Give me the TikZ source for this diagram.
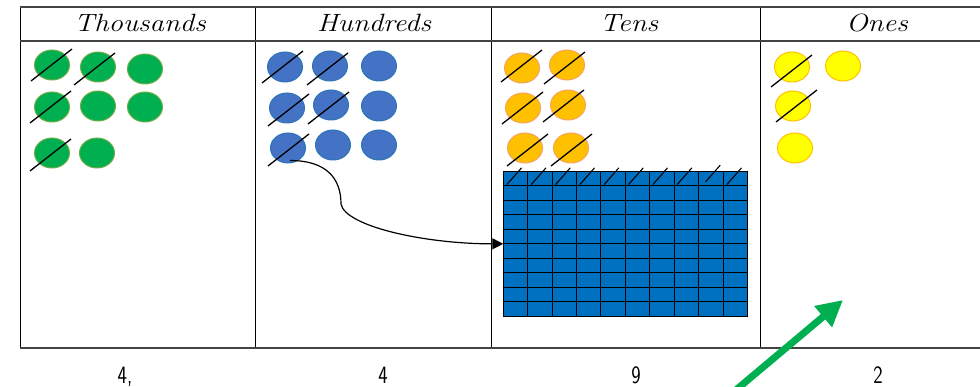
\documentclass[tikz,border=0pt]{standalone}
\usepackage{fontspec}
\usepackage{graphicx}
\usetikzlibrary{shapes.geometric,arrows.meta,calc}

\definecolor{greenfill}{HTML}{00B050}
\definecolor{greenedge}{HTML}{70AD47}
\definecolor{bluefill}{HTML}{4472C4}
\definecolor{blueedge}{HTML}{2E75B6}
\definecolor{orangefill}{HTML}{FFC000}
\definecolor{orangeedge}{HTML}{F4A460}
\definecolor{yellowfill}{HTML}{FFFF00}
\definecolor{yellowedge}{HTML}{FFC000}
\definecolor{hundredfill}{HTML}{0070C0}
\definecolor{rulegray}{HTML}{444444}
\definecolor{arrowgreen}{HTML}{00B050}

\tikzset{
  counter/.style={ellipse, minimum width=35pt, minimum height=30pt,
    inner sep=0pt, line width=1pt},
  thou/.style={counter, fill=greenfill, draw=greenedge},
  hund/.style={counter, fill=bluefill, draw=blueedge},
  tenc/.style={counter, fill=orangefill, draw=orangeedge},
  onec/.style={counter, fill=yellowfill, draw=yellowedge},
  strike/.style={line width=1.3pt, black},
  heavyrule/.style={line width=2pt, rulegray},
  thinrule/.style={line width=1pt, black},
  colhead/.style={font=\itshape\fontsize{25}{25}\selectfont, inner sep=0pt},
  digit/.style={font=\sffamily\fontsize{25}{25}\selectfont, inner sep=0pt,
    anchor=base},
  squareline/.style={line width=0.9pt, black},
}

\begin{document}
\begin{tikzpicture}[x=1pt, y=-1pt]
\useasboundingbox (0,0) rectangle (980,387);
\fill[white] (0,0) rectangle (980,387);
\clip (0,0) rectangle (980,387);

% place value table
\foreach \x in {20,255,491,760}
  \draw[thinrule] (\x,7.5) -- (\x,348);
\draw[heavyrule] (20,7.5) -- (980,7.5);
\draw[heavyrule] (20,41) -- (980,41);
\draw[heavyrule] (20,348) -- (980,348);

% column headings
\node[colhead] (hthou) at (140,23) {\scalebox{1.15}[1]{Thousands}};
\node[colhead] (hhund) at (374,23) {\scalebox{1.15}[1]{Hundreds}};
\node[colhead] (hten)  at (629,23) {\scalebox{1.15}[1]{Tens}};
\node[colhead] (hone)  at (877,23) {\scalebox{1.15}[1]{Ones}};

% thousands counters
\node[thou] (g1) at (52,65)  {};
\node[thou] (g2) at (98,67)  {};
\node[thou] (g3) at (145,69) {};
\node[thou] (g4) at (52,107) {};
\node[thou] (g5) at (98,106) {};
\node[thou] (g6) at (145,107) {};
\node[thou] (g7) at (52,153) {};
\node[thou] (g8) at (97,153) {};

% hundreds counters
\node[hund] (b1) at (285,67)  {};
\node[hund] (b2) at (330,66)  {};
\node[hund] (b3) at (379,66)  {};
\node[hund] (b4) at (287,108) {};
\node[hund] (b5) at (331,105) {};
\node[hund] (b6) at (379,106) {};
\node[hund] (b7) at (288,148) {};
\node[hund] (b8) at (333,145) {};
\node[hund] (b9) at (379,145) {};

% tens counters
\node[tenc] (o1) at (522,68)  {};
\node[tenc] (o2) at (567,65)  {};
\node[tenc] (o3) at (523,108) {};
\node[tenc] (o4) at (568,105) {};
\node[tenc] (o5) at (525,148) {};
\node[tenc] (o6) at (571,148) {};

% ones counters
\node[onec] (y1) at (792,67)  {};
\node[onec] (y2) at (843,66)  {};
\node[onec] (y3) at (793,106) {};
\node[onec] (y4) at (795,148) {};

% crossed-out counters
\foreach \n/\dx/\dy in {g1/-21/16, g2/-24/18, g4/-22/16, g7/-22/18,
    b1/-23/16, b2/-23/19, b4/-19/18, b5/-23/19, b7/-20/18,
    o1/-21/14, o2/-23/19, o3/-21/16, o4/-25/17, o5/-18/18, o6/-20/18,
    y1/-21/20, y3/-17/16}
  \draw[strike] ([shift={(\dx,\dy)}]\n.center) -- ++(41,-32);

% one hundred exchanged for ten tens: a 10 x 10 block
\node[rectangle, fill=hundredfill, draw=black, line width=0.9pt,
      minimum width=243.3pt, minimum height=144.3pt, inner sep=0pt]
  (grid) at (625.35,243.85) {};
\foreach \i in {1,...,9} {
  \draw[squareline] ($(grid.north west)!\i/10!(grid.north east)$)
                 -- ($(grid.south west)!\i/10!(grid.south east)$);
  \draw[squareline] ($(grid.north west)!\i/10!(grid.south west)$)
                 -- ($(grid.north east)!\i/10!(grid.south east)$);
}
\foreach \sx/\sy in {3.6/13.3, 28/13.3, 52.3/13.3, 76.6/13.3, 100.9/13.3,
    125.3/13.3, 149.6/13.3, 173.9/13.3, 202.3/10.6, 223.6/13.3}
  \draw[strike, line width=1.1pt] ([shift={(\sx,\sy)}]grid.north west) -- ++(14.7,-16.7);

% exchange arrow
\coordinate (bend) at (341,204);
\draw[line width=1.2pt, -{Triangle[length=11pt,width=11pt]}]
  ([shift={(2,-3)}]b7.south) .. controls +(36,0) and +(0,-26) .. (bend)
  .. controls +(4,22) and +(-80,0) .. (grid.west);

% digits of the number
\node[digit] (d1) at (125,383) {\scalebox{0.8}[1]{4,}};
\node[digit] (d2) at (383,383) {\scalebox{0.8}[1]{4}};
\node[digit] (d3) at (636,383) {\scalebox{0.8}[1]{9}};
\node[digit] (d4) at (878,383) {\scalebox{0.8}[1]{2}};

% pointer into the ones column
\coordinate (ptail) at (724,400);
\coordinate (phead) at (843,300);
\draw[arrowgreen, line width=7pt, -{Triangle[length=26pt,width=26pt]}]
  (ptail) -- (phead);
\end{tikzpicture}
\end{document}
